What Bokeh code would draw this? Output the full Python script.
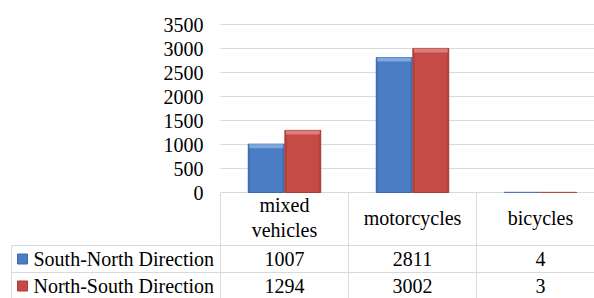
import numpy as np
from bokeh.plotting import figure
from bokeh.models import Range1d
from bokeh.core.properties import value
from bokeh.embed import file_html
from bokeh.resources import INLINE

# ---- data ----
categories = ["mixed\nvehicles", "motorcycles", "bicycles"]
series_names = ["South-North Direction", "North-South Direction"]
south_north = [1007, 2811, 4]
north_south = [1294, 3002, 3]
y_ticks = [0, 500, 1000, 1500, 2000, 2500, 3000, 3500]
y_tick_labels = ["0", "500", "1000", "1500", "2000", "2500", "3000", "3500"]

# ---- styles ----
FONT = value("Liberation Serif")
FS = "20px"
GRID = "#D9D9D9"
colors = ["#4A7DC4", "#C64B47"]
caps = ["#7FA7DE", "#DC7E7A"]
edges = ["#3A6AAE", "#A83B38"]

PX_Y = 0.048          # pixels per data unit (vertical)
PX_X = 128.0          # pixels per category column
ORIG_X = 220          # page x of the plot area's left edge
ORIG_Y = 192          # page y of the value 0
PAGE_L, PAGE_T = 0, 0
W, H = 594, 298


def px(page_x):
    return (page_x - ORIG_X) / PX_X


def py(page_y):
    return (ORIG_Y - page_y) / PX_Y


n = len(categories)
xc = np.arange(n) + 0.5
offsets = [-0.143, 0.143]
bw = 0.28

p = figure(width=W, height=H, output_backend="svg", toolbar_location=None,
           x_range=Range1d(px(PAGE_L), px(PAGE_L + W)),
           y_range=Range1d(py(PAGE_T + H), py(PAGE_T)),
           min_border=0)
p.outline_line_color = None
p.axis.visible = False
p.grid.visible = False

end_x = px(PAGE_L + W)

# gridlines (value scale) and tick labels
p.segment(x0=[0] * len(y_ticks), y0=y_ticks, x1=[end_x] * len(y_ticks),
          y1=y_ticks, line_color=GRID, line_width=1)
p.text(x=[px(203)] * len(y_ticks), y=y_ticks, text=y_tick_labels,
       text_font=FONT, text_font_size=FS, text_align="right",
       text_baseline="middle", text_color="#000000")

# bars with a simple bevel look
cap_h = 4 / PX_Y
edge_w = 2 / PX_X
for s, vals in enumerate([south_north, north_south]):
    v = np.array(vals, dtype=float)
    x = xc + offsets[s]
    p.vbar(x=x, top=v, bottom=0, width=bw, fill_color=colors[s],
           line_color=edges[s], line_width=1)
    p.vbar(x=x - bw / 2 + edge_w / 2, top=v, bottom=0, width=edge_w,
           fill_color=edges[s], line_color=None, fill_alpha=0.6)
    p.vbar(x=x + bw / 2 - edge_w / 2, top=v, bottom=0, width=edge_w,
           fill_color=edges[s], line_color=None, fill_alpha=0.6)
    p.vbar(x=x, top=v, bottom=np.maximum(v - cap_h, 0), width=bw - edge_w,
           fill_color=caps[s], line_color=None)

# data table
left_x = px(11)
row_lines = [py(245), py(272)]
p.segment(x0=[left_x] * 2, y0=row_lines, x1=[end_x] * 2, y1=row_lines,
          line_color=GRID, line_width=1)
p.segment(x0=[0, 1, 2], y0=[0] * 3, x1=[0, 1, 2], y1=[py(300)] * 3,
          line_color=GRID, line_width=1)
p.segment(x0=[left_x], y0=[py(245)], x1=[left_x], y1=[py(300)],
          line_color=GRID, line_width=1)

p.text(x=xc, y=[py(217)] * n, text=categories, text_font=FONT,
       text_font_size=FS, text_align="center", text_baseline="middle",
       text_color="#000000", text_line_height=1.15)

row_centers = [py(258.5), py(285.5)]
p.scatter(x=[px(22)] * 2, y=row_centers, marker="square", size=10,
          fill_color=colors, line_color=edges, line_width=1)
p.text(x=[px(33)] * 2, y=row_centers, text=series_names,
       text_font=FONT, text_font_size=FS, text_align="left",
       text_baseline="middle", text_color="#000000")
for r, vals in enumerate([south_north, north_south]):
    p.text(x=xc, y=[row_centers[r]] * n, text=[str(v) for v in vals],
           text_font=FONT, text_font_size=FS, text_align="center",
           text_baseline="middle", text_color="#000000")

open("out.html", "w").write(file_html(p, INLINE))
